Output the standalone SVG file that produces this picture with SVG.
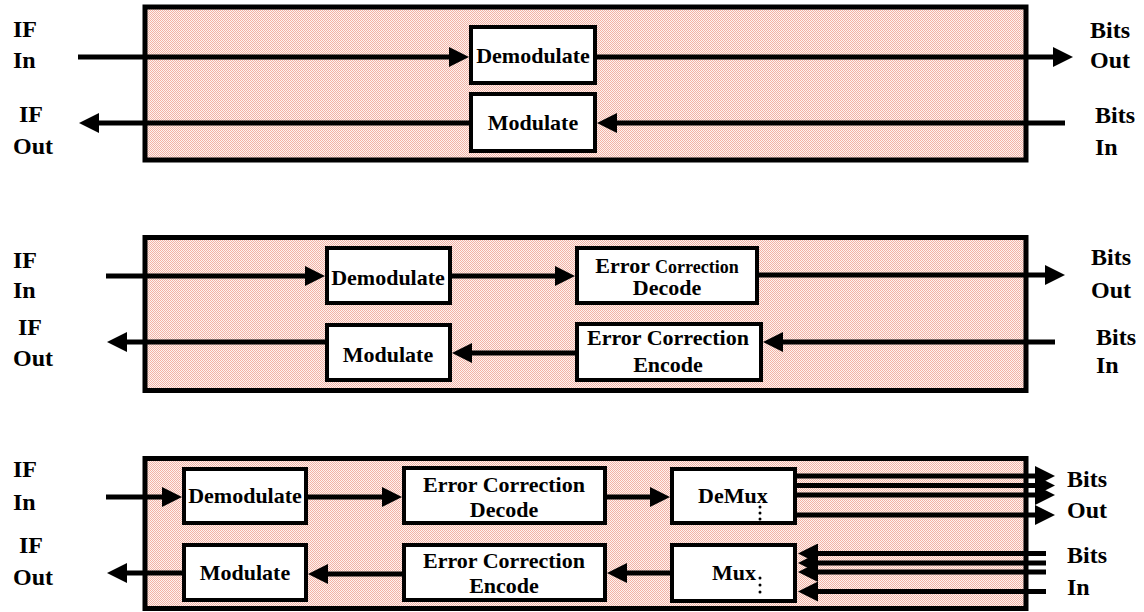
<svg xmlns="http://www.w3.org/2000/svg" width="1144" height="612" viewBox="0 0 1144 612">
<style>
.panel{fill:url(#dots);stroke:#000;stroke-width:5}
.box{fill:#fff;stroke:#000;stroke-width:4}
text{font-family:'Liberation Serif','Times New Roman',Times,'DejaVu Serif',serif;font-weight:bold;fill:#000}
.lbl{font-size:24px}
.bt{font-size:22px}
.conn path{fill:none;stroke:#000;stroke-width:5;marker-end:url(#ah)}
</style>
<defs>
<pattern id="dots" patternUnits="userSpaceOnUse" width="2" height="2">
<rect width="2" height="2" fill="#fdf3f0"/>
<rect width="1" height="1" fill="#f3b2a5"/>
<rect x="1" y="1" width="1" height="1" fill="#f3b2a5"/>
</pattern>
<marker id="ah" viewBox="0 0 4 4" markerWidth="4" markerHeight="4" refX="0" refY="2" orient="auto" markerUnits="strokeWidth">
<path d="M0,0 L4,2 L0,4 z" fill="#000"/>
</marker>
</defs>

<rect class="panel" x="145" y="7" width="881" height="153"/>
<rect class="panel" x="145" y="237.5" width="881" height="153"/>
<rect class="panel" x="145" y="458.5" width="881" height="150"/>

<g class="conn" id="connectors">
<path d="M78,57 H449"/>
<path d="M597,57 H1053"/>
<path d="M1065,123 H617"/>
<path d="M469,123 H99"/>

<path d="M106,276 H305"/>
<path d="M452,276 H555"/>
<path d="M759,275 H1045"/>
<path d="M1055,342 H783"/>
<path d="M575,353 H472"/>
<path d="M325,342 H127"/>

<path d="M106,497 H162"/>
<path d="M308,497 H382"/>
<path d="M607,497 H650"/>
<path d="M797,476 H1035"/>
<path d="M797,485.5 H1035"/>
<path d="M797,495 H1035"/>
<path d="M797,515 H1035"/>
<path d="M1046,553.5 H818"/>
<path d="M1046,563 H818"/>
<path d="M1046,572 H818"/>
<path d="M1046,591.5 H818"/>
<path d="M670,573 H627"/>
<path d="M402,574 H328"/>
<path d="M182,573 H127"/>
</g>

<g id="p1-demod"><rect class="box" x="471" y="27" width="124" height="56"/><text class="bt" x="533" y="63" text-anchor="middle">Demodulate</text></g>
<g id="p1-mod"><rect class="box" x="471" y="94" width="124" height="57"/><text class="bt" x="533" y="130" text-anchor="middle">Modulate</text></g>

<g id="p2-demod"><rect class="box" x="327" y="248" width="123" height="55"/><text class="bt" x="388" y="285" text-anchor="middle">Demodulate</text></g>
<g id="p2-mod"><rect class="box" x="327" y="325" width="123" height="55"/><text class="bt" x="388" y="362" text-anchor="middle">Modulate</text></g>
<g id="p2-ecd"><rect class="box" x="577" y="248" width="180" height="55"/><text class="bt" x="667" y="273" text-anchor="middle">Error <tspan font-size="18">Correction</tspan></text><text class="bt" x="667" y="295" text-anchor="middle" font-size="18">Decode</text></g>
<g id="p2-ece"><rect class="box" x="577" y="324" width="184" height="56"/><text class="bt" x="668" y="345" text-anchor="middle">Error Correction</text><text class="bt" x="668" y="372" text-anchor="middle">Encode</text></g>

<g id="p3-demod"><rect class="box" x="184" y="469" width="122" height="54"/><text class="bt" x="245" y="503" text-anchor="middle">Demodulate</text></g>
<g id="p3-mod"><rect class="box" x="184" y="545" width="122" height="55"/><text class="bt" x="245" y="580" text-anchor="middle">Modulate</text></g>
<g id="p3-ecd"><rect class="box" x="404" y="468" width="201" height="55"/><text class="bt" x="504" y="492" text-anchor="middle">Error Correction</text><text class="bt" x="504" y="517" text-anchor="middle">Decode</text></g>
<g id="p3-ece"><rect class="box" x="404" y="545" width="201" height="55"/><text class="bt" x="504" y="568" text-anchor="middle">Error Correction</text><text class="bt" x="504" y="593" text-anchor="middle">Encode</text></g>
<g id="p3-demux"><rect class="box" x="672" y="469" width="123" height="54"/><text class="bt" x="698" y="503">DeMux</text><circle cx="760" cy="507" r="1.5"/><circle cx="760" cy="513" r="1.5"/><circle cx="760" cy="519" r="1.5"/></g>
<g id="p3-mux"><rect class="box" x="672" y="545" width="123" height="56"/><text class="bt" x="712" y="580">Mux</text><circle cx="760" cy="578" r="1.5"/><circle cx="760" cy="585" r="1.5"/><circle cx="760" cy="592" r="1.5"/></g>

<g id="labels">
<text class="lbl" x="13" y="37">IF</text><text class="lbl" x="13" y="68">In</text>
<text class="lbl" x="19" y="122">IF</text><text class="lbl" x="13" y="154">Out</text>
<text class="lbl" x="1090" y="38">Bits</text><text class="lbl" x="1090" y="68">Out</text>
<text class="lbl" x="1095" y="123">Bits</text><text class="lbl" x="1095" y="155">In</text>

<text class="lbl" x="13" y="268">IF</text><text class="lbl" x="13" y="298">In</text>
<text class="lbl" x="18" y="335">IF</text><text class="lbl" x="13" y="366">Out</text>
<text class="lbl" x="1091" y="265">Bits</text><text class="lbl" x="1091" y="298">Out</text>
<text class="lbl" x="1096" y="345">Bits</text><text class="lbl" x="1096" y="373">In</text>

<text class="lbl" x="13" y="477">IF</text><text class="lbl" x="13" y="510">In</text>
<text class="lbl" x="19" y="553">IF</text><text class="lbl" x="13" y="585">Out</text>
<text class="lbl" x="1067" y="487">Bits</text><text class="lbl" x="1067" y="518">Out</text>
<text class="lbl" x="1067" y="563">Bits</text><text class="lbl" x="1067" y="595">In</text>
</g>
</svg>
